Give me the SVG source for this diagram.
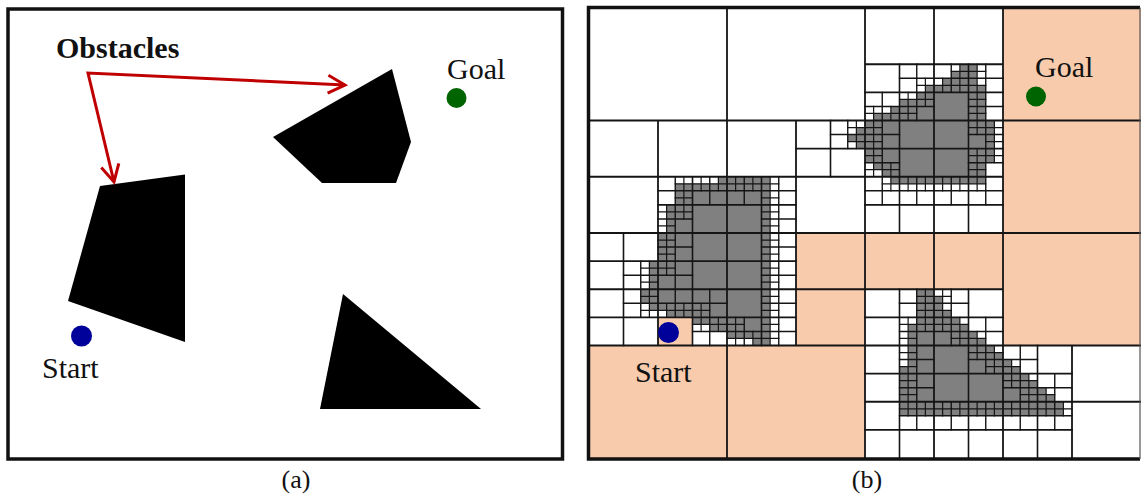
<svg xmlns="http://www.w3.org/2000/svg" width="1141" height="494" viewBox="0 0 1141 494">
<style>
.frame{fill:none;stroke:#111;stroke-width:3.5}
.obs{fill:#000}
.free{fill:#f8cbad}
.gray{fill:#808080}
.ln{fill:none;stroke:#151515;stroke-linecap:square}
.l0{stroke-width:1.8}
.l1{stroke-width:1.6}
.l2{stroke-width:1.4}
.l3{stroke-width:1.2}
.lbl{font-family:"Liberation Serif","Times New Roman",serif;font-size:30px;fill:#111}
.cap{font-family:"Liberation Serif","Times New Roman",serif;font-size:26px;fill:#111;text-anchor:middle}
.arrow{fill:none;stroke:#c00000;stroke-width:3}
</style>
<defs>
<marker id="head" markerUnits="userSpaceOnUse" viewBox="0 0 20 20" markerWidth="20" markerHeight="20" refX="18" refY="10" orient="auto-start-reverse" overflow="visible"><path d="M1 1 L18 10 L1 19" fill="none" stroke="#c00000" stroke-width="3"/></marker>
</defs>
<rect width="1141" height="494" fill="#fff"/>

<!-- Panel (a) -->
<g id="panel-a">
<rect class="frame" x="8" y="9" width="554.5" height="450"/>
<g id="obstacle-a1"><polygon class="obs" points="100,186 185,174.5 185,342 68,301"/></g>
<g id="obstacle-a2"><polygon class="obs" points="392,69 411,142 396,183 322,183 273,137"/></g>
<g id="obstacle-a3"><polygon class="obs" points="343,294 481,409 320,409"/></g>
<g id="start-a"><circle cx="81.5" cy="336" r="10.5" fill="#00009a"/><text class="lbl" x="42" y="378">Start</text></g>
<g id="goal-a"><circle cx="456.5" cy="98" r="10" fill="#006400"/><text class="lbl" x="447" y="79">Goal</text></g>
<g id="label-obstacles"><text class="lbl" x="56" y="58" font-weight="bold">Obstacles</text></g>
<g id="connectors"><path class="arrow" d="M345 85 L88 73 L114 182" marker-start="url(#head)" marker-end="url(#head)"/></g>
<text class="cap" x="296" y="488">(a)</text>
</g>

<!-- Panel (b) -->
<g id="panel-b">
<g id="free-path-cells">
<rect class="free" x="1003" y="8" width="138" height="112.5"/>
<rect class="free" x="1003" y="120.5" width="138" height="112.5"/>
<rect class="free" x="1003" y="233" width="138" height="112.5"/>
<rect class="free" x="796" y="233" width="69" height="56.25"/>
<rect class="free" x="865" y="233" width="69" height="56.25"/>
<rect class="free" x="934" y="233" width="69" height="56.25"/>
<rect class="free" x="796" y="289.25" width="69" height="56.25"/>
<rect class="free" x="589" y="345.5" width="138" height="112.5"/>
<rect class="free" x="727" y="345.5" width="138" height="112.5"/>
<rect class="free" x="658" y="317.375" width="34.5" height="28.125"/>
</g>
<g id="obstacle-cells">
<path class="gray" d="M770.125 176.75 V345.5 H752.875 V338.47 H727 V331.44 H709.75 V324.41 H692.5 V317.375 H666.625 V310.34 H649.375 V303.31 H640.75 V289.25 H649.375 V261.125 H658 V233 H666.625 V204.875 H675.25 V183.78 H718.375 V176.75 Z"/>
<path class="gray" d="M959.875 64.25 H977.125 V85.34 H985.75 V120.5 H994.375 V162.69 H985.75 V183.78 H890.875 V176.75 H882.25 V169.72 H873.625 V162.69 H865 V148.625 H856.375 V141.59 H847.75 V134.56 H856.375 V127.53 H865 V120.5 H873.625 V113.47 H890.875 V106.44 H899.5 V99.41 H916.75 V92.375 H925.375 V85.34 H942.625 V78.31 H951.25 V71.28 H959.875 Z"/>
<path class="gray" d="M916.75 289.25 H934 V296.28 H942.625 V310.34 H951.25 V317.375 H959.875 V324.41 H968.5 V331.44 H977.125 V338.47 H985.75 V345.5 H994.375 V352.53 H1003 V359.56 H1011.625 V366.59 H1020.25 V373.625 H1028.875 V380.66 H1037.5 V387.69 H1046.125 V394.72 H1054.75 V401.75 H1063.375 V415.81 H899.5 V366.59 H908.125 V324.41 H916.75 Z"/>
</g>
<g id="quadtree-lines">
<path class="ln l0" d="M865 8V458 M589 233H1141 M727 8V458 M1003 8V458 M589 120.5H1141 M589 345.5H1141 M658 120.5V345.5 M796 120.5V345.5 M934 8V458 M1072 345.5V458 M589 176.75H1003 M589 289.25H1003 M865 64.25H1003 M865 401.75H1141"/>
<path class="ln l1" d="M623.5 233V345.5 M692.5 176.75V345.5 M761.5 176.75V345.5 M830.5 120.5V176.75 M899.5 64.25V233 M899.5 289.25V458 M968.5 64.25V233 M968.5 289.25V458 M1037.5 345.5V458 M865 92.375H1003 M796 148.625H1003 M658 204.875H796 M865 204.875H1003 M589 261.125H796 M589 317.375H796 M865 317.375H1003 M865 373.625H1072 M865 429.875H1072"/>
<path class="ln l2" d="M640.75 261.125V317.375 M675.25 176.75V317.375 M709.75 176.75V204.875 M709.75 289.25V345.5 M744.25 176.75V204.875 M744.25 317.375V345.5 M778.75 176.75V345.5 M847.75 120.5V148.625 M882.25 92.375V204.875 M916.75 64.25V120.5 M916.75 176.75V204.875 M916.75 289.25V429.875 M951.25 64.25V92.375 M951.25 176.75V204.875 M951.25 289.25V345.5 M951.25 401.75V429.875 M985.75 64.25V204.875 M985.75 317.375V373.625 M985.75 401.75V429.875 M1020.25 345.5V429.875 M1054.75 373.625V429.875
M899.5 78.3125H1003 M865 106.4375H934 M968.5 106.4375H1003 M830.5 134.5625H899.5 M968.5 134.5625H1003 M865 162.6875H899.5 M968.5 162.6875H1003 M658 190.8125H796 M865 190.8125H1003 M658 218.9375H692.5 M761.5 218.9375H796 M658 247.0625H692.5 M761.5 247.0625H796 M623.5 275.1875H692.5 M761.5 275.1875H796 M623.5 303.3125H727 M761.5 303.3125H796 M899.5 303.3125H968.5 M692.5 331.4375H796 M899.5 331.4375H1003 M899.5 359.5625H934 M968.5 359.5625H1037.5 M899.5 387.6875H934 M1003 387.6875H1072 M899.5 415.8125H1072"/>
<path class="ln l3" d="M649.375 261.125V317.375 M666.625 204.875V275.1875 M666.625 303.3125V317.375 M683.875 176.75V218.9375 M683.875 303.3125V317.375 M701.125 176.75V190.8125 M701.125 303.3125V331.4375 M718.375 176.75V190.8125 M718.375 317.375V331.4375 M735.625 176.75V190.8125 M735.625 317.375V345.5 M752.875 176.75V190.8125 M752.875 331.4375V345.5 M770.125 176.75V345.5
M856.375 120.5V148.625 M873.625 106.4375V176.75 M890.875 106.4375V120.5 M890.875 162.6875V190.8125 M908.125 92.375V120.5 M908.125 176.75V190.8125 M925.375 78.3125V106.4375 M925.375 176.75V190.8125 M942.625 78.3125V92.375 M942.625 176.75V190.8125 M959.875 64.25V92.375 M959.875 176.75V190.8125 M977.125 64.25V134.5625 M977.125 148.625V190.8125 M994.375 120.5V162.6875
M908.125 317.375V415.8125 M925.375 289.25V331.4375 M925.375 401.75V415.8125 M942.625 289.25V331.4375 M942.625 401.75V415.8125 M959.875 317.375V345.5 M959.875 401.75V415.8125 M977.125 331.4375V359.5625 M977.125 401.75V415.8125 M994.375 345.5V373.625 M994.375 401.75V415.8125 M1011.625 359.5625V387.6875 M1011.625 401.75V415.8125 M1028.875 373.625V415.8125 M1046.125 387.6875V415.8125 M1063.375 401.75V415.8125
M675.25 183.78H778.75 M675.25 197.84H692.5 M761.5 197.84H778.75 M658 211.91H692.5 M761.5 211.91H778.75 M658 225.97H675.25 M761.5 225.97H778.75 M658 240.03H675.25 M761.5 240.03H778.75 M658 254.09H675.25 M761.5 254.09H778.75 M640.75 268.16H675.25 M761.5 268.16H778.75 M640.75 282.22H658 M761.5 282.22H778.75 M640.75 296.28H658 M761.5 296.28H778.75 M640.75 310.34H709.75 M761.5 310.34H778.75 M692.5 324.41H744.25 M761.5 324.41H778.75 M727 338.47H778.75
M951.25 71.28H985.75 M916.75 85.34H985.75 M899.5 99.41H934 M968.5 99.41H985.75 M865 113.47H916.75 M968.5 113.47H985.75 M847.75 127.53H882.25 M968.5 127.53H1003 M847.75 141.59H882.25 M985.75 141.59H1003 M865 155.66H882.25 M968.5 155.66H1003 M865 169.72H899.5 M968.5 169.72H985.75 M882.25 183.78H985.75
M916.75 296.28H951.25 M916.75 310.34H951.25 M899.5 324.41H968.5 M899.5 338.47H916.75 M951.25 338.47H985.75 M899.5 352.53H916.75 M968.5 352.53H1003 M899.5 366.59H916.75 M985.75 366.59H1020.25 M899.5 380.66H916.75 M1003 380.66H1037.5 M899.5 394.72H916.75 M1020.25 394.72H1054.75 M899.5 408.78H1072"/>
</g>
<path class="frame" d="M1140 7.5 H588.5 V459 H1140"/>
<path d="M1140 7.5 V459" fill="none" stroke="#555" stroke-width="1.2"/>
<g id="start-b"><circle cx="668.5" cy="332.5" r="10.5" fill="#00009a"/><text class="lbl" x="635" y="382">Start</text></g>
<g id="goal-b"><circle cx="1036" cy="96.5" r="10" fill="#006400"/><text class="lbl" x="1035" y="77">Goal</text></g>
<text class="cap" x="867" y="488">(b)</text>
</g>
</svg>
